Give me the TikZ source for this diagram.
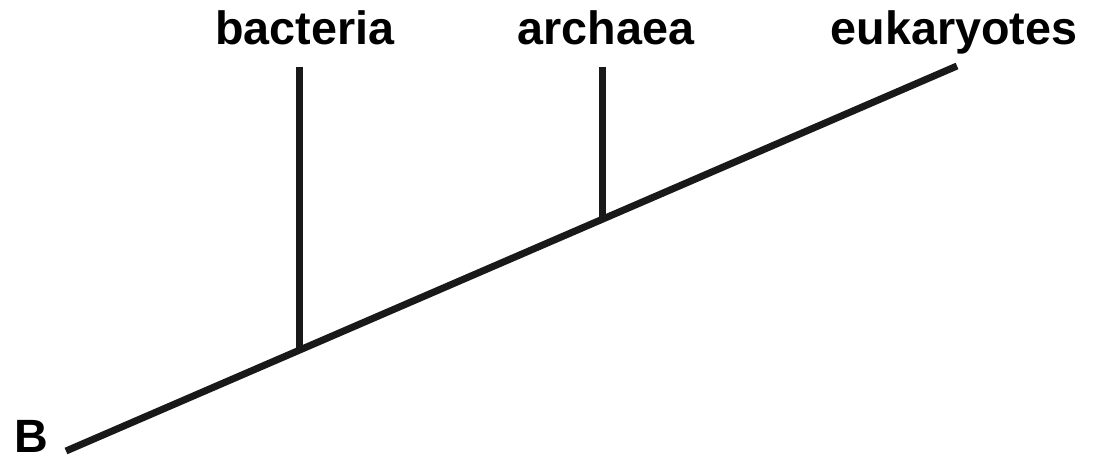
\documentclass[tikz,border=0pt]{standalone}
\usepackage{fontspec}
\setmainfont{Liberation Sans}
\begin{document}
\begin{tikzpicture}[x=1pt,y=-1pt,
  lbl/.style={font=\fontsize{46.7}{50}\selectfont\bfseries, inner sep=0pt, anchor=base},
  branch/.style={line width=7pt, color=black!90, line cap=butt}]
\useasboundingbox (0,0) rectangle (1101,459);
% labels
\node[lbl] (bac) at (305,44) {bacteria};
\node[lbl] (arc) at (606,44) {archaea};
\node[lbl] (euk) at (954,44) {eukaryotes};
\node[lbl] (B) at (31,452) {B};
% tree coordinates
\coordinate (root) at (66,451);
\coordinate (tip) at (957,66);
\coordinate (jb) at (299,350.3);
\coordinate (ja) at (602,219.4);
\coordinate (tb) at (299,67);
\coordinate (ta) at (602,67);
% branches
\draw[branch] (root) -- (tip);
\draw[branch] (tb) -- (jb);
\draw[branch] (ta) -- (ja);
\end{tikzpicture}
\end{document}
